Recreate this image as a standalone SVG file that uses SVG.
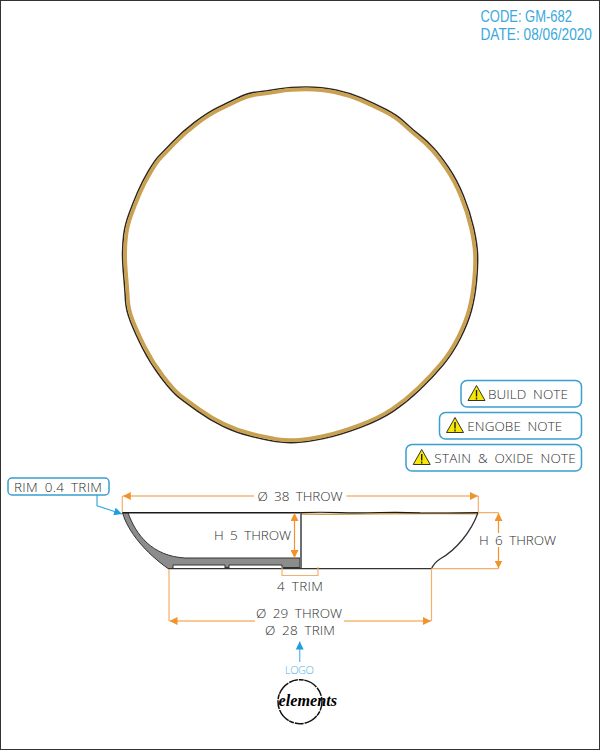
<svg xmlns="http://www.w3.org/2000/svg" width="600" height="750" viewBox="0 0 600 750">
<style>
text{font-family:"Open Sans","Liberation Sans",sans-serif;font-weight:300;font-size:13.5px;fill:#2e2e2e;word-spacing:3px}
.m{text-anchor:middle}
.dim{fill:none;stroke:#f0932b;stroke-width:1.2}
.ext{fill:none;stroke:#f6ae6c;stroke-width:1.2}
.note{fill:#fff;stroke:#3a9fd0;stroke-width:1.5}
.tri{fill:#f6e800;stroke:#333;stroke-width:1;stroke-linejoin:round}
.ex{stroke:#222;stroke-width:1.4;fill:none}
.info{font-family:"Liberation Sans",sans-serif;font-weight:400;font-size:16px;fill:#3aa8dc;word-spacing:0}
</style>
<defs>
<path id="rim" d="M237.5,98Q248,93 257.5,92Q267,91 278.5,89Q290,87 306,87Q322,87 336,90Q350,93 361.5,98Q373,103 385,109Q397,115 405,122.5Q413,130 420,135.5Q427,141 433.5,148Q440,155 448.5,167.5Q457,180 463.5,196Q470,212 473.5,227.5Q477,243 477.5,254Q478,265 476.5,281Q475,297 471.5,310Q468,323 460.5,338Q453,353 443,365Q433,377 420,389.5Q407,402 393.5,411Q380,420 360,427.5Q340,435 323.5,438.5Q307,442 296,442.5Q285,443 276,441.5Q267,440 252,436.5Q237,433 223.5,426.5Q210,420 197.5,411Q185,402 178.5,397Q172,392 161,377.5Q150,363 142.5,348Q135,333 130.5,321.5Q126,310 125.5,300Q125,290 123.75,276Q122.5,262 122.6,252.5Q122.7,243 123.85,234Q125,225 129,214Q133,203 137.5,192.5Q142,182 148.5,171Q155,160 159,156Q163,152 172.5,142Q182,132 194.5,122.5Q207,113 217,108Q227,103 237.5,98Z"/>
<marker id="oa" viewBox="0 0 8 8" refX="8" refY="4" markerWidth="8" markerHeight="8" markerUnits="userSpaceOnUse" orient="auto"><path d="M0,0L8,4L0,8Z" fill="#f0932b"/></marker>
<marker id="ob" viewBox="0 0 8 8" refX="8" refY="4" markerWidth="8" markerHeight="8" markerUnits="userSpaceOnUse" orient="auto"><path d="M0,0L8,4L0,8Z" fill="#1c9fe0"/></marker>
</defs>
<rect id="frame" x="0.5" y="0.5" width="599" height="749" fill="#fff" stroke="#333" stroke-width="1"/>
<g id="info">
<text class="info" transform="translate(480.5 22) scale(.81 1)">CODE: GM-682</text>
<text class="info" transform="translate(480.5 40) scale(.855 1)">DATE: 08/06/2020</text>
</g>
<g id="plan-view">
<use href="#rim" fill="none" stroke="#2c2620" stroke-width="1.6"/>
<use href="#rim" fill="none" stroke="#c9a152" stroke-width="3.8" transform="translate(300 265) scale(.986) translate(-300 -265)"/>
</g>
<g id="section-view">
<path d="M122.5,512.7H128C136,535 152,556 185,558H300V567.5H173V568.5H168C146,553 128,532 122.5,512.7Z" fill="#8c8c8c" stroke="#333" stroke-width="1"/>
<path d="M173,565H225V568.5H229V565H282V568.5H173Z" fill="#fff" stroke="#333" stroke-width="1"/>
<path d="M122.5,512.7H301" fill="none" stroke="#1a1a1a" stroke-width="1.4"/>
<path d="M301,512.7V568.7" fill="none" stroke="#6e6e6e" stroke-width="2"/>
<path d="M168,568.7H431.5" fill="none" stroke="#333" stroke-width="1.3"/>
<path d="M302,514Q340,514.6 380,513.8Q430,513 477,513.6" fill="none" stroke="#c9a152" stroke-width="1.6"/>
<path d="M301,512.7Q320,511.8 340,512.7Q360,513.2 380,512.5Q400,512 420,512.8Q450,513.2 478,512.7" fill="none" stroke="#1a1a1a" stroke-width="1.2"/>
<path d="M431.5,568.7Q434,563 440,559C456,550 471,532 478,512.7" fill="none" stroke="#333" stroke-width="1.3"/>
</g>
<g id="connectors">
<path class="ext" d="M122.3,512V496M478.3,512V496M478,512.7H498.5M431.5,568.7H498.5M169,569V621M431.5,569V621M282,567V575.5H318V567"/>
<path class="dim" d="M254,496H122.8" marker-end="url(#oa)"/>
<path class="dim" d="M346.5,496H478" marker-end="url(#oa)"/>
<path class="dim" d="M255,621H169.5" marker-end="url(#oa)"/>
<path class="dim" d="M344,621H431" marker-end="url(#oa)"/>
<path class="dim" d="M294.5,530V513" marker-end="url(#oa)"/>
<path class="dim" d="M294.5,530V558" marker-end="url(#oa)"/>
<path class="dim" d="M498.5,533V513" marker-end="url(#oa)"/>
<path class="dim" d="M498.5,547V568.5" marker-end="url(#oa)"/>
<path d="M97,495V505.7L122,514" fill="none" stroke="#3aa9e4" stroke-width="1.2" marker-end="url(#ob)"/>
<path d="M299.7,662V641.5" fill="none" stroke="#6fc0ea" stroke-width="1.4" marker-end="url(#ob)"/>
</g>
<g id="dimension-labels">
<text class="m" x="300" y="501" textLength="85">Ø 38 THROW</text>
<text x="214" y="540" textLength="77">H 5 THROW</text>
<text x="479" y="545" textLength="77">H 6 THROW</text>
<text class="m" x="300" y="591" textLength="46">4 TRIM</text>
<text class="m" x="299" y="618" textLength="86">Ø 29 THROW</text>
<text class="m" x="300" y="635" textLength="70">Ø 28 TRIM</text>
</g>
<g id="rim-label">
<rect class="note" x="8" y="478" width="101" height="17" rx="4"/>
<text x="14" y="491.5" textLength="88">RIM 0.4 TRIM</text>
</g>
<g id="build-note">
<rect class="note" x="461" y="380.5" width="120.5" height="26.5" rx="6"/>
<path class="tri" d="M476.5,385.5L485,400.5H468Z"/><path class="ex" d="M476.5,390V396.5M476.5,397.5V399.5"/>
<text x="488" y="398.5" textLength="80">BUILD NOTE</text>
</g>
<g id="engobe-note">
<rect class="note" x="439.5" y="412.5" width="142" height="26.5" rx="6"/>
<path class="tri" d="M455,417.5L463.5,432.5H446.5Z"/><path class="ex" d="M455,422V428.5M455,429.5V431.5"/>
<text x="467.3" y="430.5" textLength="95">ENGOBE NOTE</text>
</g>
<g id="stain-note">
<rect class="note" x="406" y="444.5" width="175.5" height="26.5" rx="6"/>
<path class="tri" d="M421.7,449.5L430.2,464.5H413.2Z"/><path class="ex" d="M421.7,454V460.5M421.7,461.5V463.5"/>
<text x="434.3" y="462.5" textLength="141.5">STAIN &amp; OXIDE NOTE</text>
</g>
<g id="logo">
<text class="m" x="299.5" y="673.5" textLength="29" style="font-size:11px;fill:#55b0e0">LOGO</text>
<circle cx="300" cy="701.7" r="22" fill="none" stroke="#111" stroke-width="1.5" stroke-dasharray="9 1 5 .6 14 1"/>
<text x="278.5" y="706" textLength="58.5" lengthAdjust="spacingAndGlyphs" style="font-family:'Liberation Serif',serif;font-style:italic;font-weight:700;font-size:17px;fill:#000">elements</text>
</g>
</svg>
